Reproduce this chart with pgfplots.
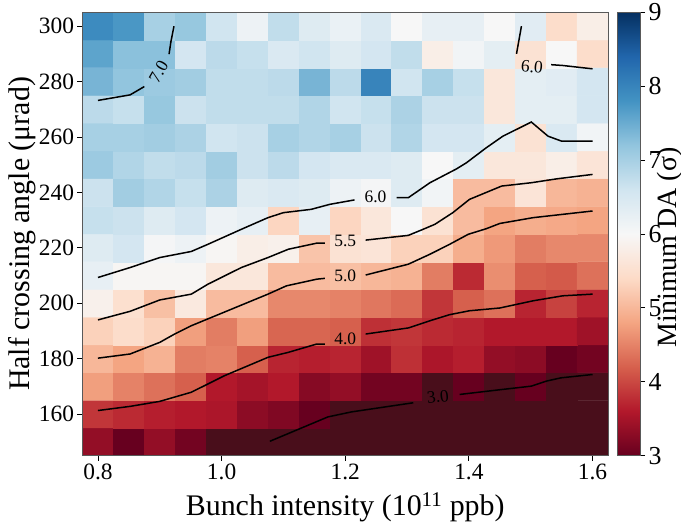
\documentclass[border=0pt]{standalone}
\usepackage{fontspec}
\setmainfont{Liberation Serif}
\usepackage{pgfplots}
\pgfplotsset{compat=1.18}
\pgfplotsset{/pgf/number format/assume math mode=true}

% RdBu, 3 (red) .. 9 (blue); the darkest cells sit below the bar at 2.9
\pgfplotsset{
  colormap={rdbu}{
    rgb255(0pt)=(73,14,27);
    rgb255(10pt)=(103,0,31);
    rgb255(70pt)=(178,24,43);
    rgb255(130pt)=(214,96,77);
    rgb255(190pt)=(244,165,130);
    rgb255(250pt)=(253,219,199);
    rgb255(310pt)=(247,247,247);
    rgb255(370pt)=(209,229,240);
    rgb255(430pt)=(146,197,222);
    rgb255(490pt)=(67,147,195);
    rgb255(550pt)=(33,102,172);
    rgb255(610pt)=(5,48,97)
  }
}

\begin{document}
\begin{tikzpicture}
\useasboundingbox (-82.5bp,-69.3bp) rectangle (598.5bp,455.7bp);
\begin{axis}[
    scale only axis,
    width=525.5bp, height=443.4bp,
    xmin=0.775, xmax=1.625, ymin=145, ymax=305,
    xtick={0.8,1.0,1.2,1.4,1.6},
    ytick={160,180,...,300},
    xticklabel style={/pgf/number format/.cd, fixed, fixed zerofill, precision=1},
    tick label style={font=\fontsize{23.5}{28}\selectfont},
    xlabel={Bunch intensity (10\textsuperscript{11} ppb)},
    ylabel={Half crossing angle (μrad)},
    every axis x label/.style={at={(axis description cs:0.5,-0.134)}, anchor=base,
        font=\fontsize{30}{36}\selectfont},
    every axis y label/.style={at={(axis description cs:-0.115,0.5)}, anchor=center, rotate=90,
        font=\fontsize{30}{36}\selectfont},
    tick align=outside, major tick length=5bp,
    tick style={black, line width=0.8bp},
    xtick pos=left, ytick pos=left,
    axis line style={gray!70!black, line width=0.8bp},
    axis on top,
    colormap name=rdbu,
    point meta min=2.9, point meta max=9,
    colorbar,
    colorbar/width=22.7bp,
    colorbar shift/.style={xshift=7bp},
    colorbar style={
        height=443.4bp,
        ymin=3, ymax=9, ytick={3,...,9},
        ytick pos=right,
        tick align=outside, major tick length=5bp,
        tick style={black, line width=0.8bp},
        axis line style={gray!70!black, line width=0.8bp},
        yticklabel style={font=\fontsize{26}{30}\selectfont},
        ylabel={Minimum DA (σ)},
        every axis y label/.style={at={(axis description cs:2.6,0.47)}, anchor=base, rotate=90,
            font=\fontsize{28}{34}\selectfont},
    },
]

\addplot[matrix plot*, mesh/cols=17, point meta=explicit] coordinates {
(0.80,150)[3.35] (0.85,150)[3.0] (0.90,150)[3.35] (0.95,150)[3.1] (1.00,150)[2.9] (1.05,150)[2.9] (1.10,150)[2.9] (1.15,150)[2.9] (1.20,150)[2.9] (1.25,150)[2.9] (1.30,150)[2.9] (1.35,150)[2.9] (1.40,150)[2.9] (1.45,150)[2.9] (1.50,150)[2.9] (1.55,150)[2.9] (1.60,150)[2.9]
(0.80,160)[3.85] (0.85,160)[3.75] (0.90,160)[3.65] (0.95,160)[3.6] (1.00,160)[3.55] (1.05,160)[3.3] (1.10,160)[3.2] (1.15,160)[3.0] (1.20,160)[2.9] (1.25,160)[2.9] (1.30,160)[2.9] (1.35,160)[2.9] (1.40,160)[2.9] (1.45,160)[2.9] (1.50,160)[2.9] (1.55,160)[2.9] (1.60,160)[2.9]
(0.80,170)[4.75] (0.85,170)[4.5] (0.90,170)[4.35] (0.95,170)[4.2] (1.00,170)[3.6] (1.05,170)[3.5] (1.10,170)[3.6] (1.15,170)[3.25] (1.20,170)[3.35] (1.25,170)[3.1] (1.30,170)[3.1] (1.35,170)[2.9] (1.40,170)[3.0] (1.45,170)[2.9] (1.50,170)[3.0] (1.55,170)[2.9] (1.60,170)[2.9]
(0.80,180)[5.0] (0.85,180)[4.8] (0.90,180)[4.95] (0.95,180)[4.45] (1.00,180)[4.5] (1.05,180)[4.2] (1.10,180)[3.7] (1.15,180)[3.65] (1.20,180)[3.7] (1.25,180)[3.45] (1.30,180)[3.8] (1.35,180)[3.55] (1.40,180)[3.65] (1.45,180)[3.35] (1.50,180)[3.3] (1.55,180)[3.0] (1.60,180)[3.1]
(0.80,190)[5.3] (0.85,190)[5.45] (0.90,190)[5.3] (0.95,190)[4.75] (1.00,190)[4.45] (1.05,190)[4.75] (1.10,190)[4.25] (1.15,190)[4.25] (1.20,190)[4.2] (1.25,190)[3.8] (1.30,190)[3.85] (1.35,190)[3.75] (1.40,190)[3.7] (1.45,190)[3.6] (1.50,190)[3.6] (1.55,190)[3.6] (1.60,190)[3.45]
(0.80,200)[5.85] (0.85,200)[5.5] (0.90,200)[5.1] (0.95,200)[5.7] (1.00,200)[5.05] (1.05,200)[5.05] (1.10,200)[4.55] (1.15,200)[4.55] (1.20,200)[4.5] (1.25,200)[4.4] (1.30,200)[4.3] (1.35,200)[3.85] (1.40,200)[4.2] (1.45,200)[4.35] (1.50,200)[3.7] (1.55,200)[3.95] (1.60,200)[3.7]
(0.80,210)[6.25] (0.85,210)[5.95] (0.90,210)[5.95] (0.95,210)[5.95] (1.00,210)[5.65] (1.05,210)[5.65] (1.10,210)[5.05] (1.15,210)[5.05] (1.20,210)[5.1] (1.25,210)[5.0] (1.30,210)[4.95] (1.35,210)[4.45] (1.40,210)[3.75] (1.45,210)[4.6] (1.50,210)[4.2] (1.55,210)[4.15] (1.60,210)[4.35]
(0.80,220)[6.4] (0.85,220)[6.55] (0.90,220)[6.05] (0.95,220)[6.15] (1.00,220)[5.95] (1.05,220)[5.8] (1.10,220)[5.85] (1.15,220)[5.15] (1.20,220)[5.55] (1.25,220)[5.6] (1.30,220)[5.3] (1.35,220)[5.3] (1.40,220)[4.9] (1.45,220)[4.7] (1.50,220)[4.45] (1.55,220)[4.55] (1.60,220)[4.55]
(0.80,230)[6.7] (0.85,230)[6.65] (0.90,230)[6.4] (0.95,230)[6.55] (1.00,230)[6.15] (1.05,230)[6.25] (1.10,230)[5.35] (1.15,230)[6.25] (1.20,230)[5.35] (1.25,230)[5.65] (1.30,230)[6.0] (1.35,230)[5.55] (1.40,230)[5.05] (1.45,230)[4.8] (1.50,230)[4.9] (1.55,230)[4.85] (1.60,230)[4.8]
(0.80,240)[6.65] (0.85,240)[7.05] (0.90,240)[6.9] (0.95,240)[6.7] (1.00,240)[6.95] (1.05,240)[6.4] (1.10,240)[6.45] (1.15,240)[6.4] (1.20,240)[6.15] (1.25,240)[6.05] (1.30,240)[6.4] (1.35,240)[6.1] (1.40,240)[5.05] (1.45,240)[5.05] (1.50,240)[5.6] (1.55,240)[5.0] (1.60,240)[4.95]
(0.80,250)[7.1] (0.85,250)[6.9] (0.90,250)[6.75] (0.95,250)[6.8] (1.00,250)[7.05] (1.05,250)[6.65] (1.10,250)[6.8] (1.15,250)[6.55] (1.20,250)[6.45] (1.25,250)[6.45] (1.30,250)[6.4] (1.35,250)[6.0] (1.40,250)[6.3] (1.45,250)[5.65] (1.50,250)[5.65] (1.55,250)[5.8] (1.60,250)[5.6]
(0.80,260)[7.0] (0.85,260)[7.0] (0.90,260)[7.05] (0.95,260)[6.95] (1.00,260)[6.6] (1.05,260)[6.65] (1.10,260)[7.0] (1.15,260)[6.9] (1.20,260)[7.0] (1.25,260)[6.65] (1.30,260)[6.9] (1.35,260)[6.55] (1.40,260)[6.55] (1.45,260)[6.3] (1.50,260)[5.55] (1.55,260)[6.45] (1.60,260)[6.1]
(0.80,270)[6.8] (0.85,270)[6.7] (0.90,270)[7.15] (0.95,270)[6.65] (1.00,270)[6.75] (1.05,270)[6.75] (1.10,270)[6.75] (1.15,270)[6.9] (1.20,270)[6.6] (1.25,270)[6.7] (1.30,270)[6.95] (1.35,270)[6.65] (1.40,270)[6.65] (1.45,270)[5.65] (1.50,270)[6.3] (1.55,270)[6.3] (1.60,270)[6.55]
(0.80,280)[7.4] (0.85,280)[7.2] (0.90,280)[7.1] (0.95,280)[7.05] (1.00,280)[6.75] (1.05,280)[6.75] (1.10,280)[6.8] (1.15,280)[7.4] (1.20,280)[6.8] (1.25,280)[8.0] (1.30,280)[6.6] (1.35,280)[7.0] (1.40,280)[6.7] (1.45,280)[5.65] (1.50,280)[6.3] (1.55,280)[6.35] (1.60,280)[6.55]
(0.80,290)[7.6] (0.85,290)[7.25] (0.90,290)[7.25] (0.95,290)[6.55] (1.00,290)[6.8] (1.05,290)[6.7] (1.10,290)[6.45] (1.15,290)[6.6] (1.20,290)[6.4] (1.25,290)[6.55] (1.30,290)[6.75] (1.35,290)[5.8] (1.40,290)[6.1] (1.45,290)[6.3] (1.50,290)[5.55] (1.55,290)[6.0] (1.60,290)[5.45]
(0.80,300)[7.9] (0.85,300)[7.75] (0.90,300)[7.0] (0.95,300)[7.15] (1.00,300)[6.6] (1.05,300)[6.15] (1.10,300)[6.75] (1.15,300)[6.4] (1.20,300)[6.2] (1.25,300)[6.45] (1.30,300)[6.0] (1.35,300)[6.25] (1.40,300)[6.25] (1.45,300)[6.0] (1.50,300)[6.35] (1.55,300)[5.45] (1.60,300)[5.8]
};

% contour lines, split where the inline labels sit
\addplot[black, line width=1.5bp, mark=none] coordinates {(0.800,273.2) (0.852,275.2) (0.875,278.2)};
\addplot[black, line width=1.5bp, mark=none] coordinates {(0.915,289.9) (0.918,294.4) (0.923,300)};
\addplot[black, line width=1.5bp, mark=none] coordinates {(1.485,300) (1.477,290)};
\addplot[black, line width=1.5bp, mark=none] coordinates {(1.533,286.1) (1.552,285.8) (1.600,284.6)};
\addplot[black, line width=1.5bp, mark=none] coordinates {(0.800,209.3) (0.852,212.9) (0.900,216.5) (0.951,218.7) (0.978,221.3) (1.032,226.7) (1.075,230.9) (1.100,232.7) (1.145,233.9) (1.175,235.7) (1.215,237.3)};
\addplot[black, line width=1.5bp, mark=none] coordinates {(1.283,238.1) (1.302,238.1) (1.337,243.5) (1.380,248.5) (1.396,250.7) (1.428,256.1) (1.455,260.3) (1.501,265.4) (1.528,260.3) (1.550,258.5) (1.600,258.5)};
\addplot[black, line width=1.5bp, mark=none] coordinates {(0.800,194.0) (0.852,197.1) (0.900,201.2) (0.951,203.3) (0.978,206.9) (1.032,212.9) (1.075,216.5) (1.108,219.5) (1.154,221.7) (1.167,221.7)};
\addplot[black, line width=1.5bp, mark=none] coordinates {(1.233,222.8) (1.302,224.5) (1.326,226.7) (1.345,228.5) (1.374,232.7) (1.401,237.5) (1.453,242.3) (1.501,243.5) (1.542,244.9) (1.600,246.5)};
\addplot[black, line width=1.5bp, mark=none] coordinates {(0.800,180.2) (0.852,181.7) (0.900,185.9) (0.924,188.9) (0.951,191.9) (1.075,203.3) (1.105,206.3) (1.154,208.7) (1.167,209.0)};
\addplot[black, line width=1.5bp, mark=none] coordinates {(1.233,210.2) (1.302,214.1) (1.337,217.7) (1.369,221.3) (1.399,224.9) (1.428,226.9) (1.450,228.8) (1.504,230.9) (1.600,233.3)};
\addplot[black, line width=1.5bp, mark=none] coordinates {(0.800,161.3) (0.852,162.8) (0.900,164.6) (0.951,167.9) (0.978,170.9) (1.005,173.9) (1.075,180.5) (1.108,182.3) (1.154,185.3) (1.167,185.3)};
\addplot[black, line width=1.5bp, mark=none] coordinates {(1.233,188.9) (1.302,191.1) (1.337,193.7) (1.369,195.9) (1.401,197.3) (1.450,198.3) (1.504,200.9) (1.552,202.7) (1.600,203.3)};
\addplot[black, line width=1.5bp, mark=none] coordinates {(1.078,150.2) (1.172,159.0) (1.210,160.8) (1.310,164.1)};
\addplot[black, line width=1.5bp, mark=none] coordinates {(1.385,167.1) (1.450,168.8) (1.501,170.1) (1.525,171.9) (1.549,173.1) (1.600,174.3)};

\begin{scope}[every node/.style={font=\fontsize{17.5}{20}\selectfont, inner sep=0pt}]
\node[rotate=60] at (axis cs:0.898,283.5) {7.0};
\node[rotate=-5] at (axis cs:1.502,285.4) {6.0};
\node at (axis cs:1.249,238.4) {6.0};
\node at (axis cs:1.200,222.4) {5.5};
\node at (axis cs:1.200,209.9) {5.0};
\node at (axis cs:1.200,187.0) {4.0};
\node[rotate=6] at (axis cs:1.350,166.2) {3.0};
\end{scope}
\end{axis}
\end{tikzpicture}
\end{document}
